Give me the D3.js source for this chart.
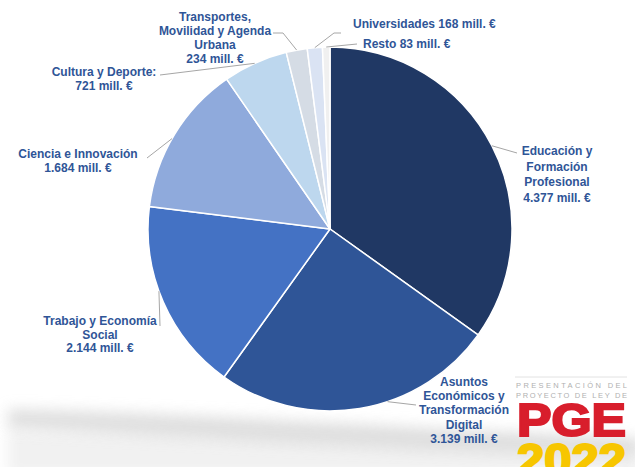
<!DOCTYPE html>
<html>
<head>
<meta charset="utf-8">
<script src="https://cdn.jsdelivr.net/npm/d3@7"></script>
<style>
  html, body { margin: 0; padding: 0; background: #fff; }
  svg { display: block; font-family: "Liberation Sans", Arial, sans-serif; }
</style>
</head>
<body>
<div id="container"></div>
<script>

// Data
const categories = ["Educación y Formación Profesional", "Asuntos Económicos y Transformación Digital",
  "Trabajo y Economía Social", "Ciencia e Innovación", "Cultura y Deporte",
  "Transportes, Movilidad y Agenda Urbana", "Universidades", "Resto"];
const values = [4377, 3139, 2144, 1684, 721, 234, 168, 83];
const labelLines = [
  ["Educación y", "Formación", "Profesional"],
  ["Asuntos", "Económicos y", "Transformación", "Digital"],
  ["Trabajo y Economía", "Social"],
  ["Ciencia e Innovación"],
  ["Cultura y Deporte:"],
  ["Transportes,", "Movilidad y Agenda", "Urbana"],
  ["Universidades"],
  ["Resto"]
];
const inlineValue = [false, false, false, false, false, false, true, true];

// Size
const width = 635;
const height = 467;
const cx = 330, cy = 229, radius = 182;

const colors = ["#203864", "#2f5597", "#4472c4", "#8faadc", "#bdd7ee", "#d5dce5", "#dae3f3", "#f0f0f0"];

// label layout: x, first baseline, anchor, line height, leader (t on arc, then points)
const layout = [
  {x: 557, y: 155, anchor: "middle", lh: 15.5, t: 0.5, pts: [[517, 153]]},
  {x: 464, y: 386, anchor: "middle", lh: 14.2, t: 0.4, pts: [[416, 405]]},
  {x: 100, y: 325, anchor: "middle", lh: 13.5, t: 0.56, pts: [[160, 326]]},
  {x: 78, y: 158, anchor: "middle", lh: 14, t: 0.47, pts: [[147, 158]]},
  {x: 104, y: 76, anchor: "middle", lh: 13.5, t: 0.49, pts: [[160, 75]]},
  {x: 215, y: 21, anchor: "middle", lh: 14, t: 0.5, pts: [[283, 33], [273, 33]]},
  {x: 353, y: 28, anchor: "start", lh: 14, t: 0.5, pts: [[334, 33], [341, 33]]},
  {x: 363, y: 48, anchor: "start", lh: 14, t: 0.5, pts: [[357, 44]]}
];

const fmt = d3.formatLocale({decimal: ",", thousands: ".", grouping: [3], currency: ["", " €"]}).format(",d");
const money = v => fmt(v) + " mill. €";

const svg = d3.create("svg")
    .attr("width", width)
    .attr("height", height);

container.append(svg.node());

const defs = svg.append("defs");
defs.append("filter").attr("id", "blur")
    .attr("x", "-10%").attr("y", "-150%").attr("width", "120%").attr("height", "400%")
  .append("feGaussianBlur").attr("stdDeviation", 7);

// Gray swoosh at the bottom
svg.append("path")
    .attr("d", "M8,430 C200,432 400,440 640,448 L640,475 L8,475 Z")
    .attr("fill", "#f1f1f1")
    .attr("filter", "url(#blur)");
svg.append("path")
    .attr("d", "M8,409 C200,413 400,428 640,438 L640,456 C400,452 200,438 8,428 Z")
    .attr("fill", "#dadada")
    .attr("filter", "url(#blur)")
    .attr("opacity", 0.85);

// Pie
const pie = d3.pie().sort(null).value(d => d);
const arcs = pie(values);
const arc = d3.arc().innerRadius(0).outerRadius(radius);

const g = svg.append("g").attr("transform", `translate(${cx},${cy})`);

g.selectAll("path")
  .data(arcs)
  .join("path")
    .attr("d", arc)
    .attr("fill", (d, i) => colors[i])
    .attr("stroke", "#fff")
    .attr("stroke-width", 1.5);

// Leader lines
const edgePoint = (d, t) => {
  const a = d.startAngle + t * (d.endAngle - d.startAngle);
  return [cx + radius * Math.sin(a), cy - radius * Math.cos(a)];
};

svg.append("g")
  .selectAll("path")
  .data(arcs)
  .join("path")
    .attr("d", (d, i) => d3.line()([edgePoint(d, layout[i].t), ...layout[i].pts]))
    .attr("fill", "none")
    .attr("stroke", "#a6a6a6")
    .attr("stroke-width", 1);

// Labels
const labels = svg.append("g")
    .attr("font-size", 12)
    .attr("font-weight", "bold")
    .attr("fill", "#2f5597");

arcs.forEach((d, i) => {
  const L = layout[i];
  const lines = labelLines[i].slice();
  if (inlineValue[i]) lines[lines.length - 1] += " " + money(values[i]);
  else lines.push(money(values[i]));
  const text = labels.append("text")
      .attr("text-anchor", L.anchor)
      .attr("x", L.x)
      .attr("y", L.y);
  lines.forEach((s, k) => {
    text.append("tspan")
        .attr("x", L.x)
        .attr("y", L.y + k * L.lh)
        .text(s);
  });
});

// PGE 2022 logo
const logo = svg.append("g");
logo.append("line")
    .attr("x1", 515).attr("x2", 627).attr("y1", 377).attr("y2", 377)
    .attr("stroke", "#e2e2e2").attr("stroke-width", 1);
logo.append("text")
    .attr("x", 516).attr("y", 388)
    .attr("textLength", 111).attr("lengthAdjust", "spacing")
    .attr("font-size", 7.5).attr("fill", "#b0b0b0")
    .text("PRESENTACIÓN DEL");
logo.append("text")
    .attr("x", 516).attr("y", 398)
    .attr("textLength", 111).attr("lengthAdjust", "spacing")
    .attr("font-size", 7.5).attr("fill", "#b0b0b0")
    .text("PROYECTO DE LEY DE");
logo.append("text")
    .attr("x", 517).attr("y", 436)
    .attr("textLength", 109).attr("lengthAdjust", "spacingAndGlyphs")
    .attr("font-size", 46).attr("font-weight", "bold").attr("fill", "#d81e2c")
    .attr("stroke", "#d81e2c").attr("stroke-width", 2.2)
    .text("PGE");
logo.append("text")
    .attr("x", 517).attr("y", 476)
    .attr("textLength", 109).attr("lengthAdjust", "spacingAndGlyphs")
    .attr("font-size", 46).attr("font-weight", "bold").attr("fill", "#f7c600")
    .attr("stroke", "#f7c600").attr("stroke-width", 2.2)
    .text("2022");

</script>
</body>
</html>
